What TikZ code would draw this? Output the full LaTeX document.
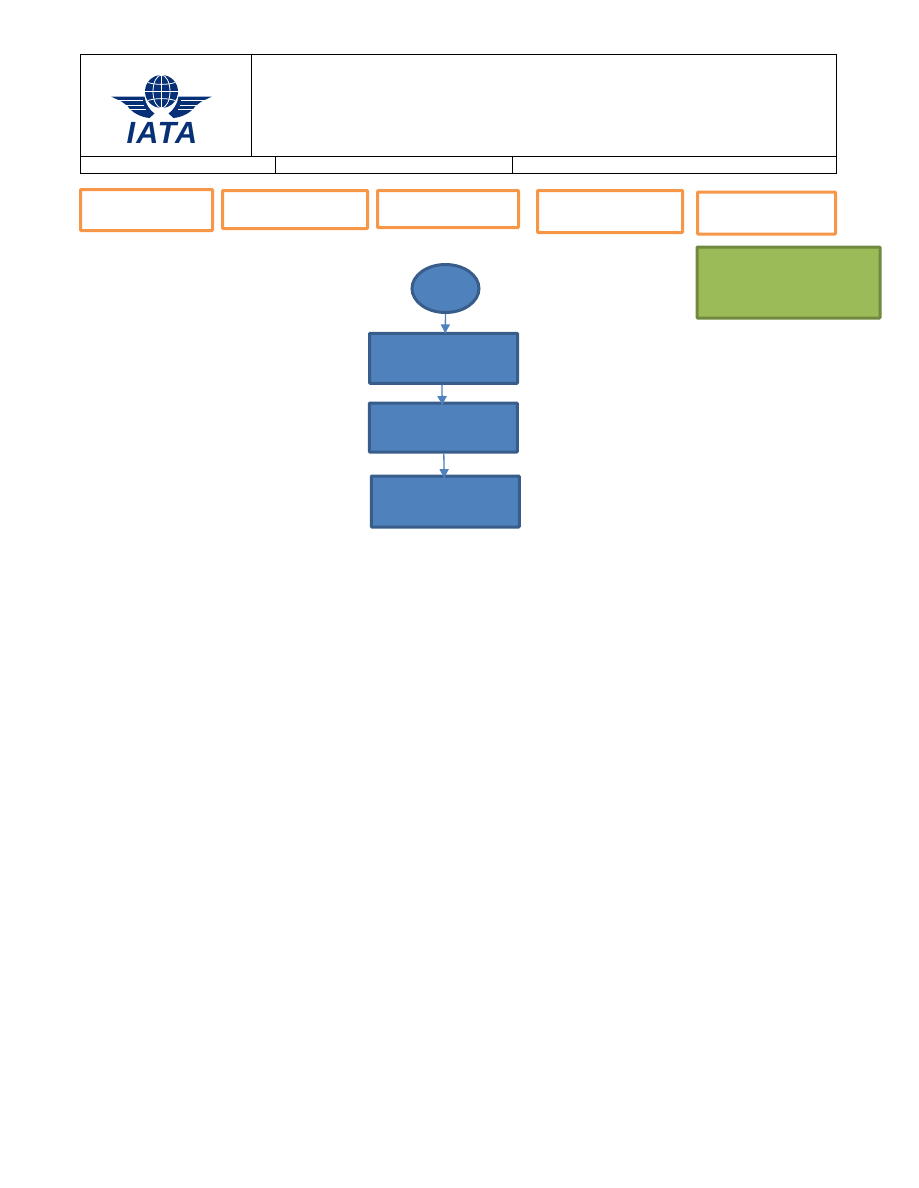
\documentclass[tikz,border=0pt]{standalone}
\usepackage{fontspec}
\usepackage{xcolor}
\setsansfont{Liberation Sans}

\definecolor{iatablue}{RGB}{8,48,118}
\definecolor{orangeline}{RGB}{247,150,70}
\definecolor{blueline}{RGB}{56,93,138}
\definecolor{bluefill}{RGB}{79,129,189}
\definecolor{greenline}{RGB}{113,137,62}
\definecolor{greenfill}{RGB}{155,187,89}

\usetikzlibrary{arrows.meta,shapes.geometric}
\tikzset{
x=0.75pt,y=-0.75pt,
cellline/.style = {draw=black, line width=0.75pt},
legendbox/.style = {draw=orangeline, line width=2.25pt, rounded corners=0.5pt, inner sep=0pt},
stagebox/.style = {draw=blueline, fill=bluefill, line width=2.25pt, rounded corners=0.5pt, inner sep=0pt},
flowline/.style = {draw=bluefill, line width=1pt, shorten >=-2pt, -{Latex[length=7.5pt,width=7.5pt]}}
}

\begin{document}
\begin{tikzpicture}
\useasboundingbox (0,0) rectangle (918,1188);

% header table
\node[cellline, inner sep=0pt, minimum width=567pt, minimum height=89.25pt] (head) at (458.5,114) {};
\draw[cellline] (80.5,156.5) -- (836.5,156.5);
\draw[cellline] (251.5,54.5) -- (251.5,156.5);
\draw[cellline] (275.5,156.5) -- (275.5,173.5);
\draw[cellline] (512.5,156.5) -- (512.5,173.5);

% logo
\fill[iatablue] (161.5,91.5) circle (16.5);
\begin{scope}[white, line width=0.6pt]
\draw (161.5,75) -- (161.5,108);
\draw (145,91.5) -- (178,91.5);
\draw (161.5,91.5) ellipse (8.5 and 16.5);
\draw (148,82.5) .. controls (155,85) and (168,85) .. (175,82.5);
\draw (148,100.5) .. controls (155,98) and (168,98) .. (175,100.5);
\end{scope}
\foreach \s in {-1,1}{
\begin{scope}[shift={(161.5,0)}, xscale=\s]
\fill[iatablue] (-50.5,96.5) -- (-17,96.5) .. controls (-16,104) and (-12,110) .. (-7,113.5) -- (-12,118) .. controls (-22,117) and (-30,112) .. (-34,106) -- (-40,101.5) -- cycle;
\draw[white, line width=0.7pt] (-46,100.5) -- (-19,100.5);
\draw[white, line width=0.7pt] (-39,105) -- (-18,105);
\draw[white, line width=0.7pt] (-33,109.5) -- (-16,109.5);
\end{scope}
}
\node[font=\fontsize{23}{23}\selectfont\sffamily\bfseries\itshape\addfontfeature{LetterSpace=4}, text=iatablue, inner sep=0pt] (iata) at (162,132.5) {IATA};

% legend boxes
\node[legendbox, minimum width=99pt, minimum height=30.75pt] (lega) at (146.5,210) {};
\node[legendbox, minimum width=108.75pt, minimum height=28.5pt] (legb) at (295,209.5) {};
\node[legendbox, minimum width=105.75pt, minimum height=27.75pt] (legc) at (448,209) {};
\node[legendbox, minimum width=108.75pt, minimum height=31.5pt] (legd) at (610,211.5) {};
\node[legendbox, minimum width=103.5pt, minimum height=31.5pt] (lege) at (766.5,213) {};
\node[draw=greenline, fill=greenfill, line width=2.25pt, rounded corners=0.5pt, inner sep=0pt, minimum width=137.25pt, minimum height=53.25pt] (note) at (788.5,282.5) {};

% flow
\node[ellipse, draw=blueline, fill=bluefill, line width=2.25pt, inner sep=0pt, minimum width=50.25pt, minimum height=36pt] (start) at (445.5,288.5) {};
\node[stagebox, minimum width=111pt, minimum height=37.5pt] (boxa) at (443.5,358.25) {};
\node[stagebox, minimum width=111pt, minimum height=36.75pt] (boxb) at (443.25,427.5) {};
\node[stagebox, minimum width=111pt, minimum height=38.25pt] (boxc) at (445.25,501.5) {};

\draw[flowline] (start.south) -- ([xshift=1.3pt]boxa.north);
\draw[flowline, shorten >=-3.5pt] ([xshift=-1.2pt]boxa.south) -- ([xshift=-0.8pt]boxb.north);
\draw[flowline, shorten >=-3.5pt] ([xshift=0.4pt]boxb.south) -- ([xshift=-0.8pt]boxc.north);
\end{tikzpicture}
\end{document}
